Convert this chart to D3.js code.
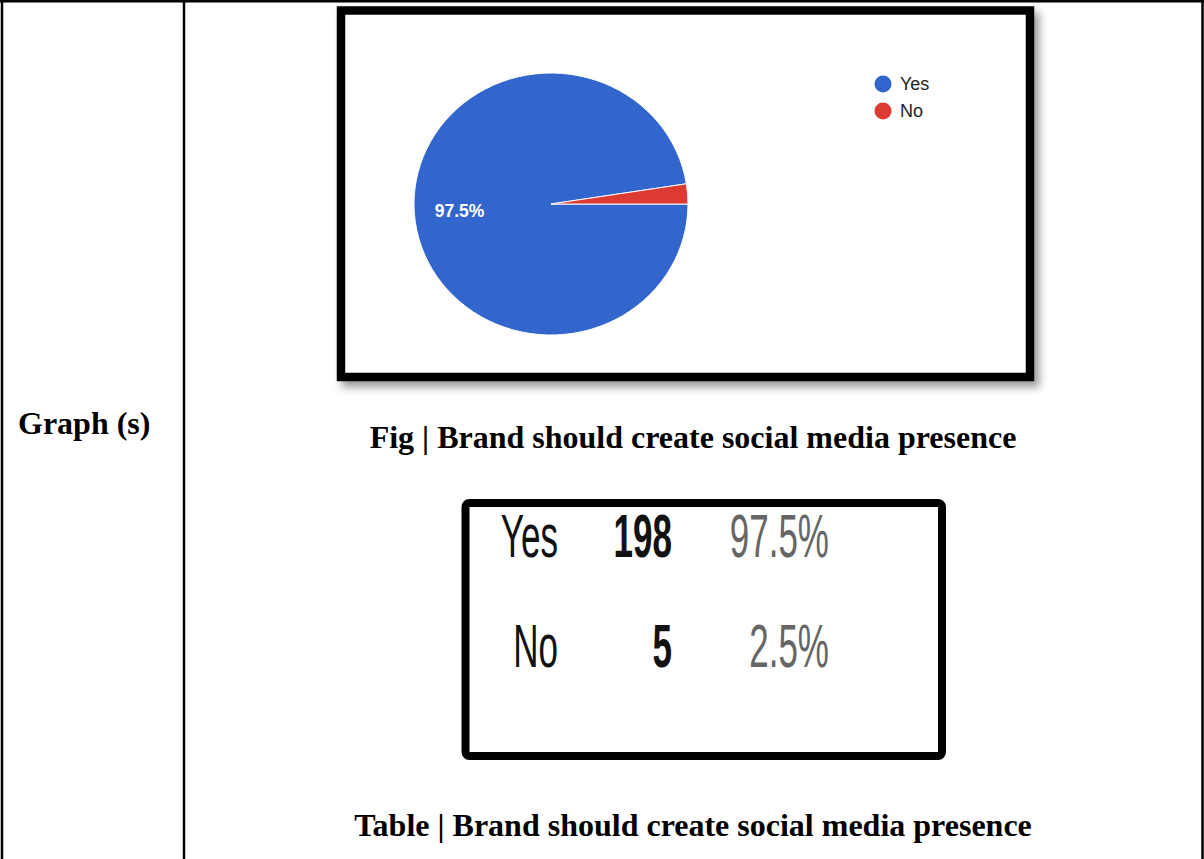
<!DOCTYPE html>
<html>
<head>
<meta charset="utf-8">
<script src="https://cdn.jsdelivr.net/npm/d3@7"></script>
<style>
  html, body { margin: 0; padding: 0; background: #fff; }
  svg { display: block; }
</style>
</head>
<body>
<div id="chart"></div>
<script>
// survey answers
var categories = ['Yes', 'No']
var counts = [198, 5]
var percentLabels = ['97.5%', '2.5%']
var sliceColors = ['#3366cc', '#dc3a32']

var rowLabel = 'Graph (s)'
var figCaption = 'Fig | Brand should create social media presence'
var tableCaption = 'Table | Brand should create social media presence'

var svgWidth = 1204
var svgHeight = 859

var svg = d3.select('#chart')
    .append('svg')
    .attr('width', svgWidth)
    .attr('height', svgHeight)

var defs = svg.append('defs')
var shadow = defs.append('filter')
    .attr('id', 'shadow')
    .attr('x', '-5%').attr('y', '-5%')
    .attr('width', '115%').attr('height', '120%')
shadow.append('feDropShadow')
    .attr('dx', 5).attr('dy', 6)
    .attr('stdDeviation', 4)
    .attr('flood-color', '#000')
    .attr('flood-opacity', 0.4)

//outer document table lines
var lines = svg.append('g').attr('stroke', '#000').attr('stroke-width', 2.5)
lines.append('line').attr('x1', 0).attr('x2', svgWidth).attr('y1', 1.2).attr('y2', 1.2)
lines.append('line').attr('x1', 2).attr('x2', 2).attr('y1', 0).attr('y2', svgHeight)
lines.append('line').attr('x1', 184).attr('x2', 184).attr('y1', 0).attr('y2', svgHeight)
lines.append('line').attr('x1', 1202.5).attr('x2', 1202.5).attr('y1', 0).attr('y2', svgHeight)

var serif = 'Liberation Serif, Times New Roman, serif'
var sans = 'Liberation Sans, Arial, sans-serif'

svg.append('text')
    .attr('x', 18)
    .attr('y', 434)
    .attr('font-family', serif)
    .attr('font-weight', 'bold')
    .attr('font-size', 32)
    .text(rowLabel)

//pie picture frame
svg.append('rect')
    .attr('x', 341).attr('y', 10.5)
    .attr('width', 689).attr('height', 366.5)
    .attr('fill', '#fff')
    .attr('stroke', '#000')
    .attr('stroke-width', 8.5)
    .attr('filter', 'url(#shadow)')

var cx = 551, cy = 204, rx = 137, ry = 131

var pie = d3.pie()
    .sort(null)
    .startAngle(Math.PI / 2)
    .endAngle(Math.PI / 2 + 2 * Math.PI)
var arcs = pie(counts)

var arc = d3.arc().innerRadius(0).outerRadius(rx)
var labelArc = d3.arc().innerRadius(rx * 0.67).outerRadius(rx * 0.67)

var pieGroup = svg.append('g')
    .attr('transform', `translate(${cx}, ${cy}) scale(1, ${ry / rx})`)

pieGroup.selectAll('path')
    .data(arcs)
    .enter()
    .append('path')
    .attr('d', arc)
    .attr('fill', (d, i) => sliceColors[i])
    .attr('stroke', '#fff')
    .attr('stroke-width', 1)

//only the big slice gets a label
svg.selectAll('.sliceLabel')
    .data(arcs.filter(d => d.endAngle - d.startAngle > 0.5))
    .enter()
    .append('text')
    .attr('class', 'sliceLabel')
    .attr('x', d => cx + labelArc.centroid(d)[0])
    .attr('y', d => cy + labelArc.centroid(d)[1] * ry / rx)
    .attr('dy', '0.35em')
    .attr('text-anchor', 'middle')
    .attr('fill', '#fff')
    .attr('font-family', sans)
    .attr('font-weight', 'bold')
    .attr('font-size', 17.5)
    .text(d => percentLabels[d.index])

//legend
var legendY = d3.scalePoint().domain(categories).range([84, 111])
var legend = svg.selectAll('.legend')
    .data(categories)
    .enter()
    .append('g')
    .attr('class', 'legend')
    .attr('transform', d => `translate(883, ${legendY(d)})`)
legend.append('circle')
    .attr('r', 8.5)
    .attr('fill', (d, i) => sliceColors[i])
legend.append('text')
    .attr('x', 17)
    .attr('dy', '0.36em')
    .attr('font-family', sans)
    .attr('font-size', 18)
    .attr('fill', '#222')
    .text(d => d)

svg.append('text')
    .attr('x', 693)
    .attr('y', 448)
    .attr('text-anchor', 'middle')
    .attr('font-family', serif)
    .attr('font-weight', 'bold')
    .attr('font-size', 32)
    .text(figCaption)

//table picture
svg.append('rect')
    .attr('x', 465.5).attr('y', 503)
    .attr('width', 476.5).attr('height', 253)
    .attr('rx', 4)
    .attr('fill', '#fff')
    .attr('stroke', '#000')
    .attr('stroke-width', 8)

var rowY = d3.scalePoint().domain(categories).range([557, 667])
var squeeze = 0.565
var columns = [
    {right: 558, weight: 'normal', fill: '#111', value: (d, i) => categories[i]},
    {right: 672, weight: 'bold', fill: '#111', value: (d, i) => counts[i]},
    {right: 829, weight: 'normal', fill: '#666', value: (d, i) => percentLabels[i]}
]

columns.forEach(function(col) {
    svg.append('g')
        .selectAll('text')
        .data(categories)
        .enter()
        .append('text')
        .attr('transform', d => `translate(${col.right}, ${rowY(d)}) scale(${squeeze}, 1)`)
        .attr('text-anchor', 'end')
        .attr('font-family', sans)
        .attr('font-size', 62)
        .attr('font-weight', col.weight)
        .attr('fill', col.fill)
        .text(col.value)
})

svg.append('text')
    .attr('x', 693)
    .attr('y', 836)
    .attr('text-anchor', 'middle')
    .attr('font-family', serif)
    .attr('font-weight', 'bold')
    .attr('font-size', 32)
    .text(tableCaption)
</script>
</body>
</html>
